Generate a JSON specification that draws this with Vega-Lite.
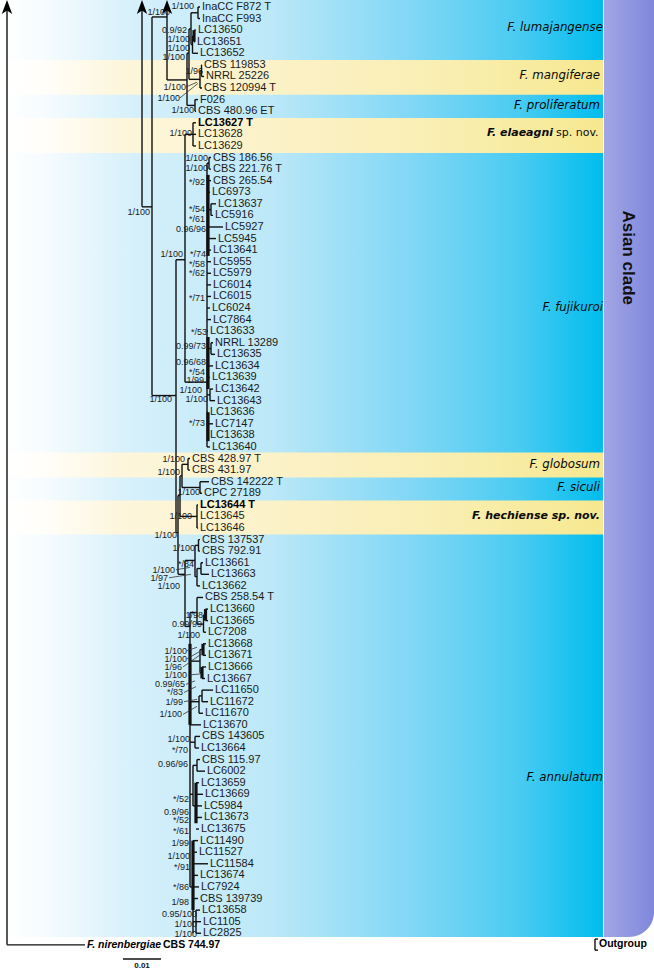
{
"$schema":"https://vega.github.io/schema/vega-lite/v6.json",
"width":654,"height":971,"padding":0,
"autosize":{"type":"fit","contains":"padding"},
"config":{"view":{"stroke":null},"axis":null},
"datasets":{
"bg":[{"x":0,"x2":603,"y":-0.604,"y2":80.33}],
"purple":[{"x":604,"x2":654,"y":-0.604,"y2":80.33}],
"yellow":[{"x":0,"x2":603,"y":4.57,"y2":7.59},{"x":0,"x2":603,"y":9.58,"y2":12.6},{"x":0,"x2":603,"y":38.48,"y2":40.64},{"x":0,"x2":603,"y":42.62,"y2":45.56}],
"branches":[
{"x":7,"x2":7,"y":0,"y2":81},{"x":7,"x2":85,"y":81,"y2":81},
{"x":142,"x2":142,"y":0,"y2":17.26},{"x":142,"x2":152,"y":17.26,"y2":17.26},
{"x":152,"x2":152,"y":0.86,"y2":33.56},{"x":152,"x2":167,"y":0.86,"y2":0.86},
{"x":167,"x2":167,"y":0,"y2":6.3},{"x":167,"x2":187,"y":6.3,"y2":6.3},
{"x":152,"x2":176,"y":33.56,"y2":33.56},
{"x":176,"x2":176,"y":21.83,"y2":45.4},{"x":176,"x2":185,"y":21.83,"y2":21.83},
{"x":185,"x2":185,"y":11,"y2":32.4},{"x":185,"x2":193,"y":11,"y2":11},{"x":185,"x2":207,"y":32.4,"y2":32.4},
{"x":187,"x2":187,"y":4,"y2":8.5},{"x":187,"x2":189,"y":4,"y2":4},
{"x":189,"x2":189,"y":1.9,"y2":6.25},{"x":189,"x2":191,"y":1.9,"y2":1.9},{"x":189,"x2":200,"y":6.25,"y2":6.25},
{"x":191,"x2":191,"y":0.5,"y2":3.25},{"x":191,"x2":198,"y":0.5,"y2":0.5},{"x":191,"x2":192.5,"y":3.25,"y2":3.25},
{"x":198,"x2":198,"y":0,"y2":1},{"x":198,"x2":200,"y":0,"y2":0},{"x":198,"x2":200,"y":1,"y2":1},
{"x":192.5,"x2":192.5,"y":2.5,"y2":4},{"x":192.5,"x2":194,"y":2.5,"y2":2.5},{"x":192.5,"x2":198,"y":4,"y2":4},
{"x":194,"x2":196,"y":2,"y2":2},{"x":194,"x2":195,"y":3,"y2":3},
{"x":200,"x2":200,"y":5.5,"y2":7},{"x":200,"x2":201.5,"y":5.5,"y2":5.5},{"x":200,"x2":202,"y":7,"y2":7},
{"x":201.5,"x2":201.5,"y":5,"y2":6},{"x":201.5,"x2":202,"y":5,"y2":5},{"x":201.5,"x2":204,"y":6,"y2":6},
{"x":187,"x2":195,"y":8.5,"y2":8.5},{"x":195,"x2":195,"y":8,"y2":9},{"x":195,"x2":198,"y":8,"y2":8},{"x":195,"x2":196,"y":9,"y2":9},
{"x":193,"x2":193,"y":10,"y2":12},{"x":193,"x2":196,"y":10,"y2":10},{"x":193,"x2":196,"y":11,"y2":11},{"x":193,"x2":196,"y":12,"y2":12},
{"x":207,"x2":207,"y":13.5,"y2":38},
{"x":207,"x2":209,"y":13.5,"y2":13.5},{"x":209,"x2":209,"y":13,"y2":14},{"x":209,"x2":211,"y":13,"y2":13},{"x":209,"x2":211,"y":14,"y2":14},
{"x":207,"x2":211,"y":15,"y2":15},{"x":207,"x2":210,"y":16,"y2":16},
{"x":207,"x2":211,"y":17.5,"y2":17.5},{"x":211,"x2":211,"y":17,"y2":18},{"x":211,"x2":216,"y":17,"y2":17},{"x":211,"x2":213,"y":18,"y2":18},
{"x":207,"x2":223,"y":19,"y2":19},{"x":207,"x2":216,"y":20,"y2":20},{"x":207,"x2":211,"y":21,"y2":21},
{"x":207,"x2":211,"y":22,"y2":22},{"x":207,"x2":211,"y":23,"y2":23},{"x":207,"x2":211,"y":24,"y2":24},{"x":207,"x2":211,"y":25,"y2":25},{"x":207,"x2":210,"y":26,"y2":26},{"x":207,"x2":211,"y":27,"y2":27},{"x":207,"x2":208,"y":28,"y2":28},
{"x":207,"x2":211,"y":29.5,"y2":29.5},{"x":211,"x2":211,"y":29,"y2":30},{"x":211,"x2":213,"y":29,"y2":29},{"x":211,"x2":215,"y":30,"y2":30},
{"x":207,"x2":213,"y":31,"y2":31},{"x":207,"x2":210,"y":32,"y2":32},
{"x":207,"x2":210,"y":33.5,"y2":33.5},{"x":210,"x2":210,"y":33,"y2":34},{"x":210,"x2":213,"y":33,"y2":33},{"x":210,"x2":215,"y":34,"y2":34},
{"x":207,"x2":208,"y":35,"y2":35},{"x":207,"x2":213,"y":36,"y2":36},{"x":207,"x2":208,"y":37,"y2":37},{"x":207,"x2":210,"y":38,"y2":38},
{"x":176,"x2":178,"y":45.4,"y2":45.4},{"x":178,"x2":178,"y":42.2,"y2":49},{"x":178,"x2":180,"y":42.2,"y2":42.2},
{"x":180,"x2":180,"y":40.5,"y2":44},{"x":180,"x2":182,"y":40.5,"y2":40.5},{"x":180,"x2":197,"y":44,"y2":44},
{"x":182,"x2":182,"y":39.5,"y2":41.5},{"x":182,"x2":188,"y":39.5,"y2":39.5},{"x":182,"x2":200,"y":41.5,"y2":41.5},
{"x":188,"x2":188,"y":39,"y2":40},{"x":188,"x2":190,"y":39,"y2":39},{"x":188,"x2":190,"y":40,"y2":40},
{"x":200,"x2":200,"y":41,"y2":42},{"x":200,"x2":209,"y":41,"y2":41},{"x":200,"x2":202,"y":42,"y2":42},
{"x":197,"x2":197,"y":43,"y2":45},{"x":197,"x2":198,"y":43,"y2":43},{"x":197,"x2":198,"y":45,"y2":45},
{"x":178,"x2":185,"y":49,"y2":49},{"x":185,"x2":185,"y":47.8,"y2":53.5},{"x":185,"x2":195,"y":47.8,"y2":47.8},
{"x":195,"x2":195,"y":46.5,"y2":49.2},{"x":195,"x2":198.5,"y":46.5,"y2":46.5},{"x":195,"x2":197,"y":49.2,"y2":49.2},
{"x":198.5,"x2":198.5,"y":46,"y2":47},{"x":198.5,"x2":200,"y":46,"y2":46},{"x":198.5,"x2":200,"y":47,"y2":47},
{"x":197,"x2":197,"y":48.5,"y2":50},{"x":197,"x2":201,"y":48.5,"y2":48.5},{"x":197,"x2":200,"y":50,"y2":50},
{"x":201,"x2":201,"y":48,"y2":49},{"x":201,"x2":203,"y":48,"y2":48},{"x":201,"x2":209,"y":49,"y2":49},
{"x":185,"x2":190,"y":53.5,"y2":53.5},{"x":190,"x2":190,"y":52.3,"y2":76},
{"x":190,"x2":197,"y":52.3,"y2":52.3},{"x":197,"x2":197,"y":51,"y2":53.3},{"x":197,"x2":203,"y":51,"y2":51},{"x":197,"x2":203.5,"y":53.3,"y2":53.3},
{"x":203.5,"x2":203.5,"y":52.5,"y2":54},{"x":203.5,"x2":205.5,"y":52.5,"y2":52.5},{"x":203.5,"x2":206,"y":54,"y2":54},
{"x":205.5,"x2":208,"y":52,"y2":52},{"x":205.5,"x2":208,"y":53,"y2":53},
{"x":190,"x2":200,"y":56.5,"y2":56.5},{"x":200,"x2":200,"y":55.5,"y2":57.5},{"x":200,"x2":203,"y":55.5,"y2":55.5},{"x":200,"x2":202,"y":57.5,"y2":57.5},
{"x":203,"x2":206,"y":55,"y2":55},{"x":203,"x2":206,"y":56,"y2":56},
{"x":202,"x2":206,"y":57,"y2":57},{"x":202,"x2":205,"y":58,"y2":58},
{"x":190,"x2":199,"y":60,"y2":60},{"x":199,"x2":199,"y":59.5,"y2":61},{"x":199,"x2":202,"y":59.5,"y2":59.5},{"x":199,"x2":203,"y":61,"y2":61},
{"x":202,"x2":202,"y":59,"y2":60},{"x":202,"x2":213,"y":59,"y2":59},{"x":202,"x2":208,"y":60,"y2":60},
{"x":190,"x2":201,"y":62,"y2":62},
{"x":190,"x2":195,"y":63.5,"y2":63.5},{"x":195,"x2":195,"y":63,"y2":64},{"x":195,"x2":200,"y":63,"y2":63},{"x":195,"x2":199,"y":64,"y2":64},
{"x":190,"x2":193,"y":68,"y2":68},{"x":193,"x2":193,"y":65.5,"y2":69},{"x":193,"x2":197,"y":65.5,"y2":65.5},
{"x":197,"x2":197,"y":65,"y2":66},{"x":197,"x2":200,"y":65,"y2":65},{"x":197,"x2":205,"y":66,"y2":66},
{"x":193,"x2":196,"y":69,"y2":69},{"x":196,"x2":199,"y":67,"y2":67},{"x":196,"x2":203,"y":68,"y2":68},{"x":196,"x2":202,"y":69,"y2":69},{"x":196,"x2":202,"y":70,"y2":70},{"x":196,"x2":199,"y":71,"y2":71},
{"x":190,"x2":193,"y":76,"y2":76},{"x":193,"x2":193,"y":72,"y2":80},
{"x":193,"x2":198,"y":72,"y2":72},{"x":193,"x2":197,"y":73,"y2":73},{"x":193,"x2":208,"y":74,"y2":74},{"x":193,"x2":198,"y":75,"y2":75},{"x":193,"x2":199,"y":76,"y2":76},{"x":193,"x2":198,"y":77,"y2":77},
{"x":196,"x2":196,"y":78,"y2":80},{"x":193,"x2":196,"y":79,"y2":79},{"x":196,"x2":200,"y":78,"y2":78},{"x":196,"x2":201,"y":79,"y2":79},{"x":196,"x2":201,"y":80,"y2":80},
{"x":123,"x2":161,"y":82.23,"y2":82.23},
{"x":595,"x2":595,"y":80.5,"y2":81.46},{"x":595,"x2":598,"y":80.5,"y2":80.5},{"x":595,"x2":598,"y":81.46,"y2":81.46}
],
"thick":[
{"x":194,"x2":194,"y":2,"y2":3},{"x":208,"x2":208,"y":14.5,"y2":21.5},{"x":208,"x2":208,"y":28.5,"y2":33},{"x":208,"x2":208,"y":35,"y2":37.5},
{"x":205.5,"x2":205.5,"y":52,"y2":53},{"x":203,"x2":203,"y":55,"y2":56},{"x":202,"x2":202,"y":57,"y2":58},
{"x":190,"x2":190,"y":55,"y2":62},{"x":193,"x2":193,"y":72,"y2":78},{"x":196,"x2":196,"y":67,"y2":70.5}
],
"leaders":[
{"x":180,"x2":198,"y":7.85,"y2":6.6},{"x":186,"x2":197,"y":6.9,"y2":6.5},
{"x":176,"x2":190,"y":48.6,"y2":48.4},{"x":169,"x2":191,"y":49.3,"y2":49.0},
{"x":187,"x2":197,"y":55.6,"y2":55.3},{"x":187,"x2":199,"y":56.3,"y2":55.7},{"x":183,"x2":201,"y":57,"y2":55.9},{"x":188,"x2":201,"y":57.7,"y2":57.6},
{"x":186,"x2":195,"y":58.5,"y2":58.2},{"x":184,"x2":196,"y":59.2,"y2":58.7},{"x":184,"x2":197,"y":60,"y2":59.8},{"x":183,"x2":197,"y":61.1,"y2":60.4}
],
"arrows":[{"x":7,"y":0},{"x":142,"y":0},{"x":167,"y":0}],
"tips":[
{"name":"InaCC F872 T","row":0,"x":202},{"name":"InaCC F993","row":1,"x":202},{"name":"LC13650","row":2,"x":198},{"name":"LC13651","row":3,"x":197},{"name":"LC13652","row":4,"x":200},
{"name":"CBS 119853","row":5,"x":204},{"name":"NRRL 25226","row":6,"x":206},{"name":"CBS 120994 T","row":7,"x":204},{"name":"F026","row":8,"x":200},{"name":"CBS 480.96 ET","row":9,"x":198},
{"name":"LC13628","row":11,"x":198},{"name":"LC13629","row":12,"x":198},
{"name":"CBS 186.56","row":13,"x":213},{"name":"CBS 221.76 T","row":14,"x":213},{"name":"CBS 265.54","row":15,"x":213},{"name":"LC6973","row":16,"x":212},{"name":"LC13637","row":17,"x":218},{"name":"LC5916","row":18,"x":215},{"name":"LC5927","row":19,"x":225},{"name":"LC5945","row":20,"x":218},{"name":"LC13641","row":21,"x":213},{"name":"LC5955","row":22,"x":213},{"name":"LC5979","row":23,"x":213},{"name":"LC6014","row":24,"x":213},{"name":"LC6015","row":25,"x":213},{"name":"LC6024","row":26,"x":212},{"name":"LC7864","row":27,"x":213},{"name":"LC13633","row":28,"x":210},{"name":"NRRL 13289","row":29,"x":215},{"name":"LC13635","row":30,"x":217},{"name":"LC13634","row":31,"x":215},{"name":"LC13639","row":32,"x":212},{"name":"LC13642","row":33,"x":215},{"name":"LC13643","row":34,"x":217},{"name":"LC13636","row":35,"x":210},{"name":"LC7147","row":36,"x":215},{"name":"LC13638","row":37,"x":210},{"name":"LC13640","row":38,"x":212},
{"name":"CBS 428.97 T","row":39,"x":192},{"name":"CBS 431.97","row":40,"x":192},{"name":"CBS 142222 T","row":41,"x":211},{"name":"CPC 27189","row":42,"x":204},
{"name":"LC13645","row":44,"x":200},{"name":"LC13646","row":45,"x":200},
{"name":"CBS 137537","row":46,"x":202},{"name":"CBS 792.91","row":47,"x":202},{"name":"LC13661","row":48,"x":205},{"name":"LC13663","row":49,"x":211},{"name":"LC13662","row":50,"x":202},{"name":"CBS 258.54 T","row":51,"x":205},{"name":"LC13660","row":52,"x":210},{"name":"LC13665","row":53,"x":210},{"name":"LC7208","row":54,"x":208},{"name":"LC13668","row":55,"x":208},{"name":"LC13671","row":56,"x":208},{"name":"LC13666","row":57,"x":208},{"name":"LC13667","row":58,"x":207},{"name":"LC11650","row":59,"x":215},{"name":"LC11672","row":60,"x":210},{"name":"LC11670","row":61,"x":205},{"name":"LC13670","row":62,"x":203},{"name":"CBS 143605","row":63,"x":202},{"name":"LC13664","row":64,"x":201},{"name":"CBS 115.97","row":65,"x":202},{"name":"LC6002","row":66,"x":207},{"name":"LC13659","row":67,"x":201},{"name":"LC13669","row":68,"x":205},{"name":"LC5984","row":69,"x":204},{"name":"LC13673","row":70,"x":204},{"name":"LC13675","row":71,"x":201},{"name":"LC11490","row":72,"x":200},{"name":"LC11527","row":73,"x":199},{"name":"LC11584","row":74,"x":210},{"name":"LC13674","row":75,"x":200},{"name":"LC7924","row":76,"x":201},{"name":"CBS 139739","row":77,"x":200},{"name":"LC13658","row":78,"x":202},{"name":"LC1105","row":79,"x":203},{"name":"LC2825","row":80,"x":203}
],
"tipsBold":[{"name":"LC13627 T","row":10,"x":198},{"name":"LC13644 T","row":43,"x":200}],
"support":[
{"t":"1/100","x":194,"row":-0.1},{"t":"1/100","x":170,"row":0.45},{"t":"0.9/92","x":187,"row":1.98},{"t":"1/100","x":190,"row":2.76},{"t":"1/100","x":190,"row":3.54},{"t":"1/100","x":185,"row":4.31},{"t":"1/96","x":203,"row":5.52},{"t":"1/100","x":186,"row":6.9},{"t":"1/100","x":180,"row":7.85},{"t":"1/100","x":194,"row":8.9},{"t":"1/100","x":192,"row":10.87},{"t":"1/100","x":150,"row":17.7},
{"t":"1/100","x":208,"row":13.03},{"t":"1/100","x":208,"row":13.9},{"t":"*/92","x":205,"row":15.1},{"t":"*/54","x":205,"row":17.45},{"t":"*/61","x":205,"row":18.3},{"t":"0.96/96","x":206,"row":19.15},{"t":"1/100","x":183,"row":21.3},{"t":"*/74","x":206,"row":21.3},{"t":"*/58","x":205,"row":22.2},{"t":"*/62","x":205,"row":23},{"t":"*/71","x":205,"row":25.1},{"t":"*/53","x":207,"row":28.1},{"t":"0.99/73","x":206,"row":29.3},{"t":"0.96/68","x":206,"row":30.7},{"t":"*/54","x":205,"row":31.5},{"t":"1/99","x":204,"row":32.2},{"t":"1/100","x":202,"row":33.05},{"t":"1/100","x":208,"row":33.9},{"t":"*/73","x":205,"row":35.9},{"t":"1/100","x":172,"row":33.9},
{"t":"1/100","x":185,"row":39},{"t":"1/100","x":180,"row":40.2},{"t":"1/100","x":200,"row":41.9},{"t":"1/100","x":192,"row":44},{"t":"1/100","x":177,"row":45.6},{"t":"1/100","x":195,"row":46.7},{"t":"*/84","x":194,"row":48.1},{"t":"1/100","x":175,"row":48.6},{"t":"1/97","x":168,"row":49.3},{"t":"1/100","x":180,"row":50},
{"t":"1/98","x":203,"row":52.5},{"t":"0.99/99","x":202,"row":53.3},{"t":"1/100","x":200,"row":54.2},{"t":"1/100","x":187,"row":55.6},{"t":"1/100","x":187,"row":56.3},{"t":"1/96","x":182,"row":57},{"t":"1/100","x":187,"row":57.7},{"t":"0.99/65","x":185,"row":58.5},{"t":"*/83","x":183,"row":59.2},{"t":"1/99","x":183,"row":60},{"t":"1/100","x":182,"row":61.1},{"t":"1/100","x":190,"row":63.2},{"t":"*/70","x":188,"row":64.2},
{"t":"0.96/96","x":188,"row":65.4},{"t":"*/52","x":189,"row":68.4},{"t":"0.9/96","x":189,"row":69.5},{"t":"*/52","x":189,"row":70.2},{"t":"*/61","x":189,"row":71.2},{"t":"1/99","x":189,"row":72.2},{"t":"1/100","x":190,"row":73.3},{"t":"*/91","x":190,"row":74.3},{"t":"*/86","x":189,"row":76},{"t":"1/98","x":189,"row":77.3},
{"t":"0.95/100","x":197,"row":78.3},{"t":"1/100","x":197,"row":79.2},{"t":"1/100","x":197,"row":80.1}
],
"species":[{"label":"F. lumajangense","x":603,"row":1.73},{"label":"F. mangiferae","x":600,"row":5.87},{"label":"F. proliferatum","x":600,"row":8.46},{"label":"F. fujikuroi","x":603,"row":25.9},{"label":"F. globosum","x":600,"row":39.5},{"label":"F. siculi","x":600,"row":41.5},{"label":"F. annulatum","x":603,"row":66.5}],
"speciesBold":[{"label":"F. elaeagni","x":553,"row":10.87},{"label":"F. hechiense sp. nov.","x":600,"row":44}],
"spnov":[{"label":"sp. nov.","x":556,"row":10.87}],
"outgroupTaxon":[{"label":"F. nirenbergiae","x":87,"row":81}],
"outgroupStrain":[{"label":"CBS 744.97","x":163,"row":81}],
"outgroupLabel":[{"label":"Outgroup","x":599,"row":80.95}],
"clade":[{"label":"Asian clade","x":628,"row":21.66}],
"scaleLabel":[{"label":"0.01","x":142,"row":82.83}]
},
"encoding":{
"x":{"field":"x","type":"quantitative","scale":{"domain":[0,654],"nice":false,"zero":false},"axis":null},
"y":{"field":"y","type":"quantitative","scale":{"domain":[-0.604,83.174],"reverse":true,"nice":false,"zero":false},"axis":null}
},
"layer":[
{"data":{"name":"bg"},"mark":{"type":"rect","fill":{"gradient":"linear","x1":0,"y1":0,"x2":1,"y2":0,"stops":[{"offset":0,"color":"#ffffff"},{"offset":0.07,"color":"#f7fcfe"},{"offset":0.22,"color":"#d6f0fb"},{"offset":0.45,"color":"#bce8f8"},{"offset":0.7,"color":"#7cd6f5"},{"offset":0.86,"color":"#4acbf2"},{"offset":1,"color":"#00bdee"}]}},
 "encoding":{"x2":{"field":"x2"},"y2":{"field":"y2"}}},
{"data":{"name":"yellow"},"mark":{"type":"rect","fill":{"gradient":"linear","x1":0,"y1":0,"x2":1,"y2":0,"stops":[{"offset":0,"color":"#ffffff"},{"offset":0.07,"color":"#fffefa"},{"offset":0.2,"color":"#fdf6dc"},{"offset":0.5,"color":"#fbf1c4"},{"offset":0.75,"color":"#f9eeb0"},{"offset":1,"color":"#f6e890"}]}},
 "encoding":{"x2":{"field":"x2"},"y2":{"field":"y2"}}},
{"data":{"name":"purple"},"mark":{"type":"rect","cornerRadiusBottomRight":30,"fill":{"gradient":"linear","x1":0,"y1":0,"x2":1,"y2":0,"stops":[{"offset":0,"color":"#a2a6e5"},{"offset":1,"color":"#7f87dc"}]}},
 "encoding":{"x2":{"field":"x2"},"y2":{"field":"y2"}}},
{"data":{"name":"branches"},"mark":{"type":"rule","color":"#111111","strokeWidth":1.4},"encoding":{"x2":{"field":"x2"},"y2":{"field":"y2"}}},
{"data":{"name":"thick"},"mark":{"type":"rule","color":"#111111","strokeWidth":3.2},"encoding":{"x2":{"field":"x2"},"y2":{"field":"y2"}}},
{"data":{"name":"leaders"},"mark":{"type":"rule","color":"#333333","strokeWidth":0.8},"encoding":{"x2":{"field":"x2"},"y2":{"field":"y2"}}},
{"data":{"name":"support"},"mark":{"type":"text","align":"right","baseline":"middle","font":"Liberation Sans","fontSize":9,"color":"#1a1a1a"},"encoding":{"y":{"field":"row","type":"quantitative"},"text":{"field":"t"}}},
{"data":{"name":"arrows"},"mark":{"type":"point","shape":"M0,-1L0.75,1L0,0.5L-0.75,1Z","size":190,"filled":true,"color":"#000000","opacity":1,"strokeWidth":0}},
{"data":{"name":"tips"},"mark":{"type":"text","align":"left","baseline":"middle","font":"Liberation Sans","fontSize":11,"color":"#1a1a1a"},"encoding":{"y":{"field":"row","type":"quantitative"},"text":{"field":"name"}}},
{"data":{"name":"tipsBold"},"mark":{"type":"text","align":"left","baseline":"middle","font":"Liberation Sans","fontSize":11,"fontWeight":"bold","color":"#000000"},"encoding":{"y":{"field":"row","type":"quantitative"},"text":{"field":"name"}}},
{"data":{"name":"species"},"mark":{"type":"text","align":"right","baseline":"middle","font":"DejaVu Sans","fontSize":11.8,"fontStyle":"italic","color":"#0a0a0a"},"encoding":{"y":{"field":"row","type":"quantitative"},"text":{"field":"label"}}},
{"data":{"name":"speciesBold"},"mark":{"type":"text","align":"right","baseline":"middle","font":"DejaVu Sans","fontSize":11,"fontStyle":"italic","fontWeight":"bold","color":"#0a0a0a"},"encoding":{"y":{"field":"row","type":"quantitative"},"text":{"field":"label"}}},
{"data":{"name":"spnov"},"mark":{"type":"text","align":"left","baseline":"middle","font":"DejaVu Sans","fontSize":11,"color":"#0a0a0a"},"encoding":{"y":{"field":"row","type":"quantitative"},"text":{"field":"label"}}},
{"data":{"name":"outgroupTaxon"},"mark":{"type":"text","align":"left","baseline":"middle","font":"Liberation Sans","fontSize":10.5,"fontStyle":"italic","fontWeight":"bold","color":"#000000"},"encoding":{"y":{"field":"row","type":"quantitative"},"text":{"field":"label"}}},
{"data":{"name":"outgroupStrain"},"mark":{"type":"text","align":"left","baseline":"middle","font":"Liberation Sans","fontSize":10.5,"fontWeight":"bold","color":"#000000"},"encoding":{"y":{"field":"row","type":"quantitative"},"text":{"field":"label"}}},
{"data":{"name":"outgroupLabel"},"mark":{"type":"text","align":"left","baseline":"middle","font":"Liberation Sans","fontSize":10.5,"fontWeight":"bold","color":"#000000"},"encoding":{"y":{"field":"row","type":"quantitative"},"text":{"field":"label"}}},
{"data":{"name":"clade"},"mark":{"type":"text","align":"center","baseline":"middle","angle":90,"font":"Liberation Sans","fontSize":17,"fontWeight":"bold","color":"#111111"},"encoding":{"y":{"field":"row","type":"quantitative"},"text":{"field":"label"}}},
{"data":{"name":"scaleLabel"},"mark":{"type":"text","align":"center","baseline":"middle","font":"Liberation Sans","fontSize":8,"fontWeight":"bold","color":"#111111"},"encoding":{"y":{"field":"row","type":"quantitative"},"text":{"field":"label"}}}
]
}
